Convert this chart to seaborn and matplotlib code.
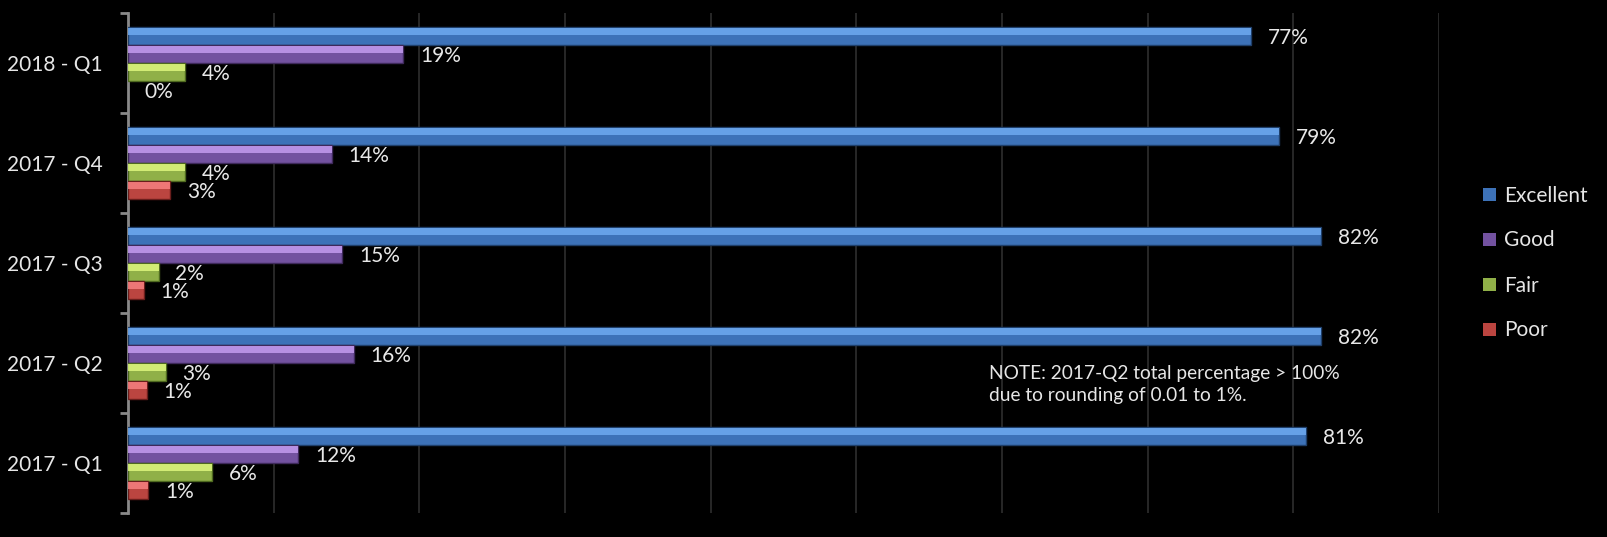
import matplotlib
matplotlib.use("Agg")
import matplotlib.pyplot as plt
import seaborn as sns
import pandas as pd
from matplotlib.patches import Rectangle

quarters = ["2018 - Q1", "2017 - Q4", "2017 - Q3", "2017 - Q2", "2017 - Q1"]
ratings = ["Excellent", "Good", "Fair", "Poor"]
excellent = [77.1, 79.0, 81.9, 81.9, 80.9]
good = [18.9, 14.0, 14.7, 15.5, 11.7]
fair = [3.9, 3.9, 2.1, 2.6, 5.8]
poor = [0.0, 2.9, 1.1, 1.3, 1.4]
note = "NOTE: 2017-Q2 total percentage > 100%\ndue to rounding of 0.01 to 1%."

base_colors = ["#3d72b8", "#7352a0", "#90b048", "#bb4540"]
light_colors = ["#6eaaf0", "#c49cf0", "#def77e", "#f88080"]
edge_colors = ["#1f3f6a", "#3f2a5c", "#4f6a20", "#6a1e1c"]

rows = []
for q, e, g, f, p in zip(quarters, excellent, good, fair, poor):
    for r, v in zip(ratings, [e, g, f, p]):
        rows.append({"Quarter": q, "Rating": r, "Value": v})
df = pd.DataFrame(rows)

sns.set_theme(style="dark", rc={"axes.facecolor": "black", "figure.facecolor": "black"})
plt.rcParams["font.family"] = ["Lato", "DejaVu Sans"]

fig = plt.figure(figsize=(16.08, 5.37), dpi=100)
ax = fig.add_axes([128 / 1608, 1 - 513 / 537, (1439 - 128) / 1608, 500 / 537])
ax.set_facecolor("black")

sns.barplot(data=df, y="Quarter", x="Value", hue="Rating", order=quarters,
            hue_order=ratings, palette=dict(zip(ratings, base_colors)),
            width=0.72, orient="h", ax=ax, linewidth=1.0, saturation=1)

for i, cont in enumerate(ax.containers):
    for patch in cont:
        patch.set_edgecolor(edge_colors[i])
        patch.set_zorder(3)
        x, y = patch.get_x(), patch.get_y()
        w, h = patch.get_width(), patch.get_height()
        if w > 0:
            ax.add_patch(Rectangle((x, y + h * 0.07), w, h * 0.40,
                                   facecolor=light_colors[i], edgecolor="none",
                                   zorder=4, alpha=0.85))
        else:
            patch.set_linewidth(0)
    anns = ax.bar_label(cont, labels=[f"{v:.0f}%" for v in cont.datavalues],
                        padding=12, color="#e8e8e8", fontsize=15)
    for a in anns:
        a.xyann = (12, -1.2)

ax.set_xlim(0, 90)
ax.set_ylim(len(quarters) - 0.5, -0.5)
ax.set_xticks(range(10, 91, 10))
ax.set_xticklabels([])
ax.tick_params(axis="x", length=0)
ax.grid(axis="x", color="#2e2e2e", linewidth=1.2, zorder=0)
ax.grid(axis="y", visible=False)
ax.set_axisbelow(True)
ax.set_xlabel("")
ax.set_ylabel("")

ax.set_yticks(range(len(quarters)))
ax.set_yticklabels(quarters, color="#e6e6e6", fontsize=15)
ax.set_yticks([i - 0.5 for i in range(len(quarters) + 1)], minor=True)
ax.tick_params(axis="y", which="major", length=0, pad=18)
ax.tick_params(axis="y", which="minor", length=6, width=2, color="#8a8a8a", left=True)

for s in ["top", "right", "bottom"]:
    ax.spines[s].set_visible(False)
ax.spines["left"].set_color("#8a8a8a")
ax.spines["left"].set_linewidth(2)

sns.move_legend(ax, "center left", bbox_to_anchor=(1473 / 1608, 1 - 263 / 537),
                bbox_transform=fig.transFigure, frameon=False, title=None,
                handlelength=0.6, handleheight=0.6, handletextpad=0.4,
                labelspacing=1.2, fontsize=15, labelcolor="#e6e6e6", borderpad=0)
leg = ax.get_legend()
for i, hnd in enumerate(leg.legend_handles):
    hnd.set_edgecolor("none")
    hnd.set_facecolor(base_colors[i])

fig.text(989 / 1608, 1 - 384.5 / 537, note, color="#e6e6e6", fontsize=13.8,
         va="center", ha="left", linespacing=1.4)

fig.savefig("out.png", dpi=100, facecolor="black")
